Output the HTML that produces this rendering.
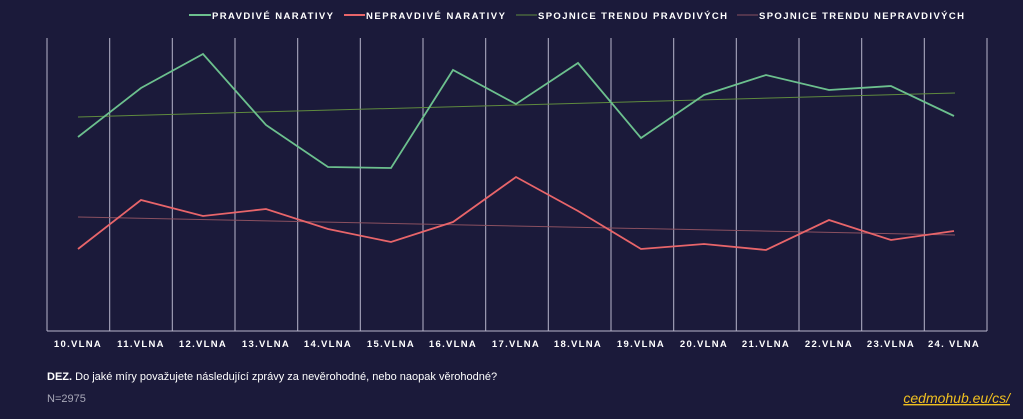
<!DOCTYPE html>
<html><head><meta charset="utf-8"><style>
html,body{margin:0;padding:0;background:#1b1a3a;}
body{width:1023px;height:414px;overflow:hidden;font-family:"Liberation Sans",sans-serif;}
</style></head><body>
<svg width="1023" height="414" xmlns="http://www.w3.org/2000/svg">
<rect width="1023" height="414" fill="#1b1a3a"/>
<g stroke="#b8b6cc" stroke-width="1">
<line x1="47" y1="38" x2="47" y2="331"/><line x1="109.7" y1="38" x2="109.7" y2="331"/><line x1="172.3" y1="38" x2="172.3" y2="331"/><line x1="235" y1="38" x2="235" y2="331"/><line x1="297.7" y1="38" x2="297.7" y2="331"/><line x1="360.3" y1="38" x2="360.3" y2="331"/><line x1="423" y1="38" x2="423" y2="331"/><line x1="485.7" y1="38" x2="485.7" y2="331"/><line x1="548.3" y1="38" x2="548.3" y2="331"/><line x1="611" y1="38" x2="611" y2="331"/><line x1="673.7" y1="38" x2="673.7" y2="331"/><line x1="736.3" y1="38" x2="736.3" y2="331"/><line x1="799" y1="38" x2="799" y2="331"/><line x1="861.7" y1="38" x2="861.7" y2="331"/><line x1="924.3" y1="38" x2="924.3" y2="331"/><line x1="987" y1="38" x2="987" y2="331"/>
<line x1="47" y1="331" x2="987" y2="331"/>
</g>
<line x1="78" y1="117" x2="955" y2="93" stroke="#5f8a3e" stroke-width="1"/>
<line x1="78" y1="217" x2="955" y2="235" stroke="#8a5060" stroke-width="1"/>
<polyline fill="none" stroke="#6cc08e" stroke-width="1.8" points="78,137 141,88 203,54 266,125 328,167 391,168 453,70 516,104 578,63 641,138 704,95 766,75 829,90 891,86 954,116"/>
<polyline fill="none" stroke="#e8656a" stroke-width="1.8" points="78,249 141,200 203,216 266,209 328,229 391,242 453,222 516,177 578,211 641,249 704,244 766,250 829,220 891,240 954,231"/>
<g font-size="9.5" font-weight="bold" fill="#ffffff" letter-spacing="1.3" text-anchor="middle">
<text x="78" y="347">10.VLNA</text><text x="141" y="347">11.VLNA</text><text x="203" y="347">12.VLNA</text><text x="266" y="347">13.VLNA</text><text x="328" y="347">14.VLNA</text><text x="391" y="347">15.VLNA</text><text x="453" y="347">16.VLNA</text><text x="516" y="347">17.VLNA</text><text x="578" y="347">18.VLNA</text><text x="641" y="347">19.VLNA</text><text x="704" y="347">20.VLNA</text><text x="766" y="347">21.VLNA</text><text x="829" y="347">22.VLNA</text><text x="891" y="347">23.VLNA</text><text x="954" y="347">24. VLNA</text>
</g>
<g font-size="9.5" font-weight="bold" fill="#ffffff">
<line x1="189" y1="15" x2="211" y2="15" stroke="#6cc08e" stroke-width="2"/><text x="212" y="19" textLength="121" lengthAdjust="spacing">PRAVDIVÉ NARATIVY</text>
<line x1="344" y1="15" x2="365" y2="15" stroke="#e8656a" stroke-width="2"/><text x="366" y="19" textLength="139" lengthAdjust="spacing">NEPRAVDIVÉ NARATIVY</text>
<line x1="516" y1="15" x2="537" y2="15" stroke="#5f8a3e" stroke-width="1"/><text x="538" y="19" textLength="189" lengthAdjust="spacing">SPOJNICE TRENDU PRAVDIVÝCH</text>
<line x1="737" y1="15" x2="758" y2="15" stroke="#8a5060" stroke-width="1"/><text x="759" y="19" textLength="205" lengthAdjust="spacing">SPOJNICE TRENDU NEPRAVDIVÝCH</text>
</g>
<text x="47" y="380" font-size="11" fill="#ffffff"><tspan font-weight="bold">DEZ.</tspan> Do jaké míry považujete následující zprávy za nevěrohodné, nebo naopak věrohodné?</text>
<text x="47" y="402" font-size="11" fill="#a8a8b8">N=2975</text>
<text x="1010" y="403" font-size="14" font-style="italic" fill="#f0c020" text-anchor="end" text-decoration="underline">cedmohub.eu/cs/</text>
</svg>
</body></html>
